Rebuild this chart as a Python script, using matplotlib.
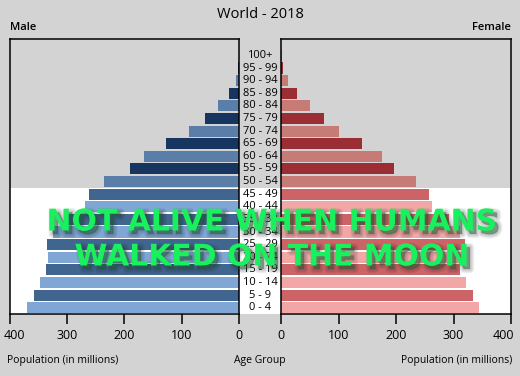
import matplotlib.pyplot as plt
import matplotlib.patheffects as pe
from matplotlib.patches import Rectangle
from matplotlib.transforms import blended_transform_factory, ScaledTranslation

# data (population in millions), youngest group first
ages = ["0 - 4", "5 - 9", "10 - 14", "15 - 19", "20 - 24", "25 - 29", "30 - 34",
        "35 - 39", "40 - 44", "45 - 49", "50 - 54", "55 - 59", "60 - 64", "65 - 69",
        "70 - 74", "75 - 79", "80 - 84", "85 - 89", "90 - 94", "95 - 99", "100+"]
male = [369, 358, 346, 336, 333, 335, 325, 300, 268, 262, 235, 190, 165, 128,
        87, 60, 36, 17, 5, 1, 0.5]
female = [345, 334, 322, 312, 315, 320, 312, 292, 262, 258, 234, 196, 176, 140,
          101, 75, 50, 28, 12, 3, 1]
ticks = [0, 100, 200, 300, 400]
n_young = 10  # groups 0-49 sit on the white band
overlay = ["NOT ALIVE WHEN HUMANS", "WALKED ON THE MOON"]

# colours: (dark, light) for old / young groups
male_old = ("#17365f", "#5a7ea8")
male_young = ("#40658f", "#7fa6d4")
female_old = ("#9b2e35", "#c67b77")
female_young = ("#cc6366", "#f2a6a5")

BG = "#d3d3d3"
FONT = ["Open Sans", "DejaVu Sans"]
plt.rcParams["font.family"] = FONT


def bar_colors(old, young):
    out = []
    for i in range(len(ages)):
        pair = young if i < n_young else old
        out.append(pair[1] if i % 2 == 0 else pair[0])
    return out


fig = plt.figure(figsize=(5.2, 3.76), dpi=100)
fig.patch.set_facecolor(BG)

axL = fig.add_axes([9.5 / 520, 1 - 314 / 376, 229.5 / 520, 275 / 376])
axR = fig.add_axes([281 / 520, 1 - 314 / 376, 230 / 520, 275 / 376])

y = list(range(len(ages)))
axL.barh(y, male, height=0.88, color=bar_colors(male_old, male_young), zorder=2)
axR.barh(y, female, height=0.88, color=bar_colors(female_old, female_young), zorder=2)

axL.set_xlim(400, 0)
axR.set_xlim(0, 400)
for ax in (axL, axR):
    ax.set_ylim(-0.5, 21.3)
    ax.set_facecolor("none")
    ax.set_yticks([])
    ax.set_xticks(ticks)
    ax.set_xticklabels([str(t) for t in ticks], fontsize=9)
    ax.tick_params(axis="x", length=7.5, width=1.1, pad=3.5)
    for s in ax.spines.values():
        s.set_linewidth(1.1)
        s.set_color("black")

# nudge the outer "400" labels inwards so they stay on the canvas
lab = axL.get_xticklabels()[-1]
lab.set_transform(lab.get_transform() + ScaledTranslation(4.5 / 100, 0, fig.dpi_scale_trans))
lab = axR.get_xticklabels()[-1]
lab.set_transform(lab.get_transform() + ScaledTranslation(-7.5 / 100, 0, fig.dpi_scale_trans))

# white band behind the 0-49 groups
tr = blended_transform_factory(fig.transFigure, axL.transData)
fig.add_artist(Rectangle((10 / 520, -0.5), 501 / 520, n_young, transform=tr,
                         facecolor="white", edgecolor="none", zorder=-1))

# age labels in the middle
for i, lab in enumerate(ages):
    axL.text(260 / 520, i, lab, transform=tr, ha="center", va="center",
             fontsize=8, clip_on=False)

fig.text(260 / 520, 1 - 15 / 376, "World - 2018", ha="center", va="center", fontsize=10.5)
fig.text(10 / 520, 1 - 28 / 376, "Male", ha="left", va="center", fontsize=8, fontweight="semibold")
fig.text(511 / 520, 1 - 28 / 376, "Female", ha="right", va="center", fontsize=8, fontweight="semibold")
fig.text(7 / 520, 1 - 361 / 376, "Population (in millions)", ha="left", va="center", fontsize=7.5)
fig.text(512 / 520, 1 - 361 / 376, "Population (in millions)", ha="right", va="center", fontsize=7.5)
fig.text(259.5 / 520, 1 - 361 / 376, "Age Group", ha="center", va="center", fontsize=7.5)

# meme overlay with a soft drop shadow
shadow = [pe.Stroke(linewidth=w, foreground="#202020", alpha=0.07, offset=(2.5, -2.5))
          for w in (6, 4.5, 3, 1.5)]
shadow.append(pe.SimplePatchShadow(offset=(2.5, -2.5), shadow_rgbFace="#202020", alpha=0.35))
shadow.append(pe.Normal())
for line, ypx in zip(overlay, (222, 257)):
    fig.text(272 / 520, 1 - ypx / 376, line, ha="center", va="center",
             fontsize=21.5, fontweight="bold", family="DejaVu Sans",
             color="#19f05e", path_effects=shadow, zorder=10)

plt.savefig("out.png", dpi=100, facecolor=BG)
